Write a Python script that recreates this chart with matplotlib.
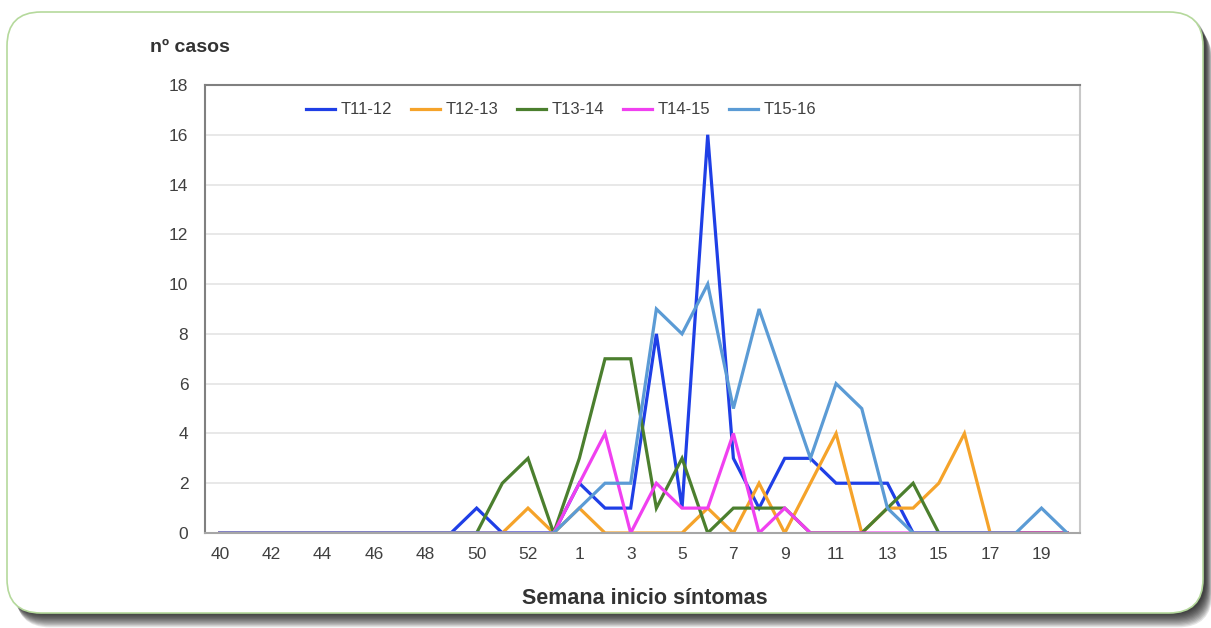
import matplotlib
matplotlib.use("Agg")
import matplotlib.pyplot as plt
from matplotlib.patches import FancyBboxPatch
from matplotlib.transforms import IdentityTransform

plt.rcParams['font.family'] = ['Liberation Sans', 'DejaVu Sans']

# Weeks 40..53 then 1..20
weeks = list(range(40, 54)) + list(range(1, 21))
tick_labels = [str(w) if i % 2 == 0 else "" for i, w in enumerate(weeks)]

t11_12 = [0, 0, 0, 0, 0, 0, 0, 0, 0, 0, 1, 0, 0, 0,
          2, 1, 1, 8, 1, 16, 3, 1, 3, 3, 2, 2, 2, 0, 0, 0, 0, 0, 0, 0]
t12_13 = [0, 0, 0, 0, 0, 0, 0, 0, 0, 0, 0, 0, 1, 0,
          1, 0, 0, 0, 0, 1, 0, 2, 0, 2, 4, 0, 1, 1, 2, 4, 0, 0, 0, 0]
t13_14 = [0, 0, 0, 0, 0, 0, 0, 0, 0, 0, 0, 2, 3, 0,
          3, 7, 7, 1, 3, 0, 1, 1, 1, 0, 0, 0, 1, 2, 0, 0, 0, 0, 0, 0]
t14_15 = [0, 0, 0, 0, 0, 0, 0, 0, 0, 0, 0, 0, 0, 0,
          2, 4, 0, 2, 1, 1, 4, 0, 1, 0, 0, 0, 0, 0, 0, 0, 0, 0, 0, 0]
t15_16 = [0, 0, 0, 0, 0, 0, 0, 0, 0, 0, 0, 0, 0, 0,
          1, 2, 2, 9, 8, 10, 5, 9, 6, 3, 6, 5, 1, 0, 0, 0, 0, 0, 1, 0]

series_names = ["T11-12", "T12-13", "T13-14", "T14-15", "T15-16"]
series_vals = [t11_12, t12_13, t13_14, t14_15, t15_16]
colors = ["#1f3fe6", "#f5a32a", "#4b7f2e", "#f040f0", "#5b9bd5"]

W, H = 1211, 628
fig = plt.figure(figsize=(W / 100, H / 100), dpi=100)
fig.patch.set_facecolor("white")

# Rounded frame with shadow (pixel coords)
bx, by, bw, bh, r = 7, 15, 1196, 601, 34
for k in range(12, 0, -1):
    sh = FancyBboxPatch((bx + 2 + k * 0.6, by - k * 1.2), bw, bh,
                        boxstyle=f"round,pad=0,rounding_size={r}",
                        transform=IdentityTransform(), facecolor="black",
                        edgecolor="none", alpha=0.1, zorder=0)
    fig.add_artist(sh)
box = FancyBboxPatch((bx, by), bw, bh, boxstyle=f"round,pad=0,rounding_size={r}",
                     transform=IdentityTransform(), facecolor="white",
                     edgecolor="#b5d99c", linewidth=1.2, zorder=0.5)
fig.add_artist(box)

ax = fig.add_axes([205 / W, 1 - 533 / H, (1080 - 205) / W, (533 - 85) / H])
ax.set_facecolor("none")
ax.set_zorder(2)

x = list(range(len(weeks)))
for name, vals, c in zip(series_names, series_vals, colors):
    ax.plot(x, vals, color=c, linewidth=2.3, label=name, solid_joinstyle="miter")

ax.set_xlim(-0.58, len(weeks) - 0.5)
ax.set_ylim(0, 18)
ax.set_yticks(range(0, 19, 2))
ax.set_xticks(x)
ax.set_xticklabels(tick_labels)
ax.tick_params(axis="both", length=0, labelsize=12.5, colors="#404040")
ax.tick_params(axis="x", pad=10)
ax.tick_params(axis="y", pad=12)
ax.grid(axis="y", color="#e8e8e8", linewidth=1.4)
ax.set_axisbelow(True)
ax.spines["top"].set_color("#808080")
ax.spines["left"].set_color("#808080")
ax.spines["bottom"].set_color("#a6a6a6")
ax.spines["right"].set_color("#c8c8c8")
for s in ax.spines.values():
    s.set_linewidth(1.5)

leg = fig.legend(loc="center", bbox_to_anchor=(561 / W, 1 - 110 / H), ncol=5,
                 frameon=False, fontsize=12, handlelength=1.75, handletextpad=0.3,
                 columnspacing=1.15)
for t in leg.get_texts():
    t.set_color("#404040")

fig.text(150 / W, 1 - 48 / H, "nº casos", fontsize=14, fontweight="bold",
         color="#333333", ha="left", va="center")
fig.text(645 / W, 1 - 598 / H, "Semana inicio síntomas", fontsize=15.5,
         fontweight="bold", color="#333333", ha="center", va="center")

fig.savefig("out.png", dpi=100)
